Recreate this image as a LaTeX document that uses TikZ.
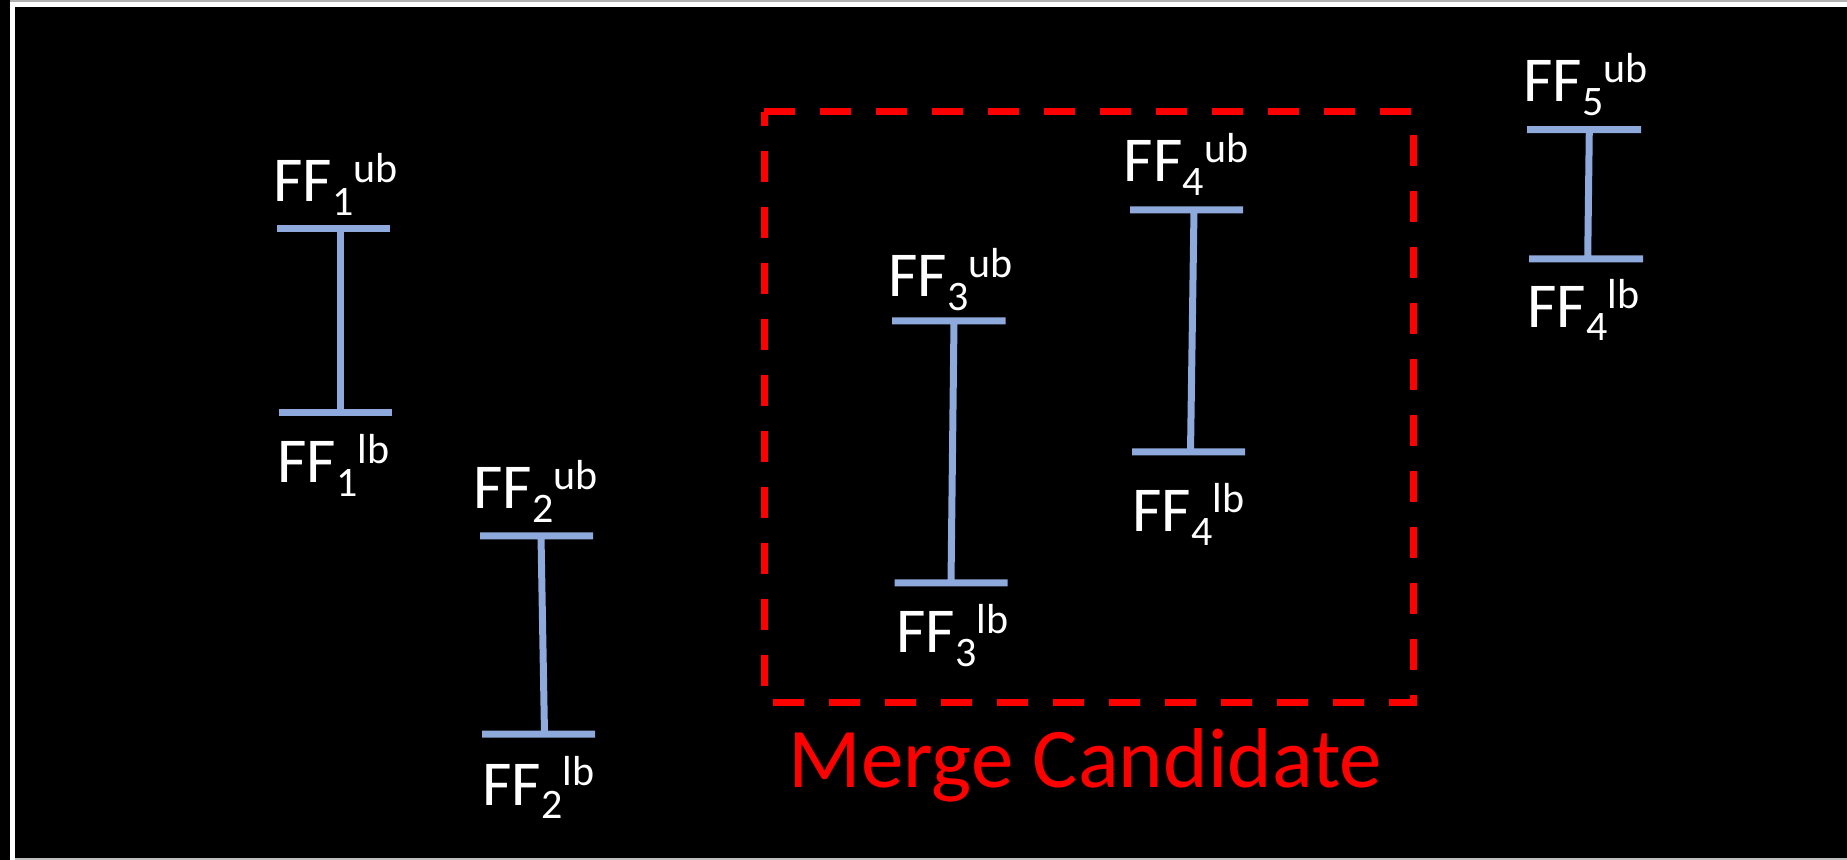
\documentclass[tikz,border=0pt]{standalone}
\usepackage{fontspec}
\setmainfont{Carlito}
\usepackage{xcolor}
\usepackage{tikz}
\definecolor{barblue}{RGB}{142,169,219}
\newcommand{\ffsz}{\fontsize{21}{21}\selectfont}
\newcommand{\fflab}[2]{FF\raisebox{-0.21em}{\ffsz #1}\raisebox{0.3em}{\ffsz #2}}

\begin{document}
\begin{tikzpicture}[x=0.5pt,y=-0.5pt,
    bar/.style={draw=barblue,line width=3.5pt},
    lab/.style={text=white,anchor=base west,inner sep=0pt,font=\fontsize{32}{32}\selectfont}]
  \useasboundingbox (0,0) rectangle (1847,860);
  \fill[black] (0,0) rectangle (1847,860);
  \fill[gray!60] (10,0) rectangle (1847,2);
  \fill[gray!50] (15,858) rectangle (1847,860);
  \draw[white,line width=2.5pt] (12.5,860) -- (12.5,4.8) -- (1847,4.8);
  \draw[bar] (277,228.5) -- (390,228.5) (340,228.5) -- (340,413) (279,413) -- (392,413);
  \draw[bar] (480,536) -- (593,536) (541,536) -- (544.5,734) (482,734) -- (595,734);
  \draw[bar] (892,321) -- (1005.5,321) (954,321) -- (951,583) (894.5,583) -- (1007.5,583);
  \draw[bar] (1130,210) -- (1243,210) (1194,210) -- (1190.5,452) (1132,452) -- (1245,452);
  \draw[bar] (1527,129.7) -- (1641,129.7) (1589.3,129.7) -- (1587.7,259) (1529,259) -- (1643,259);
  \node[lab] (ub1) at (273,201.7) {\fflab{1}{ub}};
  \node[lab] (lb1) at (277,483) {\fflab{1}{lb}};
  \node[lab] (ub2) at (473,509) {\fflab{2}{ub}};
  \node[lab] (lb2) at (482,805) {\fflab{2}{lb}};
  \node[lab] (ub3) at (888,297) {\fflab{3}{ub}};
  \node[lab] (lb3) at (896,653) {\fflab{3}{lb}};
  \node[lab] (ub4) at (1123.5,182) {\fflab{4}{ub}};
  \node[lab] (lb4) at (1132,532) {\fflab{4}{lb}};
  \node[lab] (ub5) at (1523,101.7) {\fflab{5}{ub}};
  \node[lab] (lb5) at (1527,327.3) {\fflab{4}{lb}};
  \draw[red,line width=3.5pt,dash pattern=on 15.5pt off 12.5pt] (764,112) -- (1413,112) -- (1413,702) -- (764,702) -- cycle;
  \node[lab,text=red,font=\fontsize{42.5}{42.5}\selectfont] (merge) at (788,787) {Merge Candidate};
\end{tikzpicture}
\end{document}
